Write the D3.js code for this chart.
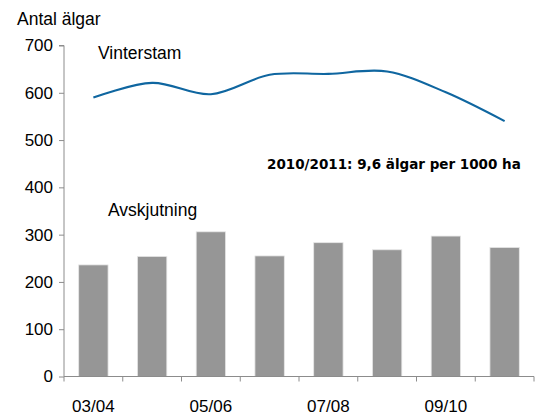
<!DOCTYPE html>
<html><head><meta charset="utf-8">
<script src="https://cdn.jsdelivr.net/npm/d3@7"></script>
<style>body{margin:0;background:#fff}svg{display:block}</style>
</head><body>
<svg id="c" width="542" height="416"></svg>
<script>
const categories = ["03/04","04/05","05/06","06/07","07/08","08/09","09/10","10/11"];
const avskjutning = [236, 254, 306, 255, 283, 268, 297, 273];
const vinterstam = [590, 621, 597, 638, 640, 645, 601, 540];
const yTicks = [0,100,200,300,400,500,600,700];
const xTickLabels = ["03/04","05/06","07/08","09/10"];

(function(){
const svg = d3.select("#c");
const mLeft = 64, mRight = 534, mTop = 45.5, mBottom = 376.5;
const x = d3.scaleBand().domain(categories).range([mLeft, mRight]).paddingInner(0.5).paddingOuter(0.25);
const y = d3.scaleLinear().domain([0,700]).range([mBottom, mTop]);
const font = "Liberation Sans, Arial, sans-serif";

// bars
svg.append("g").selectAll("rect").data(avskjutning).join("rect")
  .attr("x", (d,i)=>x(categories[i]))
  .attr("y", d=>y(d))
  .attr("width", x.bandwidth())
  .attr("height", d=>mBottom - y(d))
  .attr("fill", "#969696")
  .attr("stroke", "#e6e6e6").attr("stroke-width", 0.8);

// line
const line = d3.line()
  .x((d,i)=>x(categories[i]) + x.bandwidth()/2)
  .y(d=>y(d))
  .curve(d3.curveCardinal.tension(0));
svg.append("path").datum(vinterstam).attr("d", line)
  .attr("fill","none").attr("stroke","#0f66a0").attr("stroke-width",2.1);

// y axis
const yAxis = d3.axisLeft(y).tickValues(yTicks).tickSize(5).tickPadding(6);
const gy = svg.append("g").attr("transform",`translate(${mLeft},0)`).call(yAxis);
gy.select(".domain").attr("stroke","#8c8c8c").attr("d", `M-5,${mTop}H0V${mBottom}`);
gy.selectAll(".tick line").attr("stroke","#8c8c8c");
gy.selectAll("text").attr("font-family",font).attr("font-size",17).attr("fill","#000");

// x axis
const xs = d3.scalePoint().domain(d3.range(categories.length+1)).range([mLeft,mRight]);
const gx = svg.append("g").attr("transform",`translate(0,${mBottom})`);
gx.append("path").attr("d",`M${mLeft},0H${mRight}`).attr("stroke","#8c8c8c").attr("fill","none");
gx.selectAll("line").data(d3.range(categories.length+1)).join("line")
  .attr("x1",d=>xs(d)).attr("x2",d=>xs(d)).attr("y1",0).attr("y2",5).attr("stroke","#8c8c8c");
gx.selectAll("text").data(xTickLabels).join("text")
  .attr("x",d=>x(d)+x.bandwidth()/2).attr("y",35)
  .attr("text-anchor","middle").attr("font-family",font).attr("font-size",17).text(d=>d);

// labels
svg.append("text").attr("x",17).attr("y",25).attr("font-family",font).attr("font-size",17.5).text("Antal älgar");
svg.append("text").attr("x",98).attr("y",59).attr("font-family",font).attr("font-size",17.5).text("Vinterstam");
svg.append("text").attr("x",108).attr("y",216).attr("font-family",font).attr("font-size",17.5).text("Avskjutning");
svg.append("text").attr("x",267).attr("y",169).attr("font-family","DejaVu Sans, Verdana, sans-serif")
  .attr("font-weight","bold").attr("font-size",13.5).text("2010/2011: 9,6 älgar per 1000 ha");
})();
</script>
</body></html>
